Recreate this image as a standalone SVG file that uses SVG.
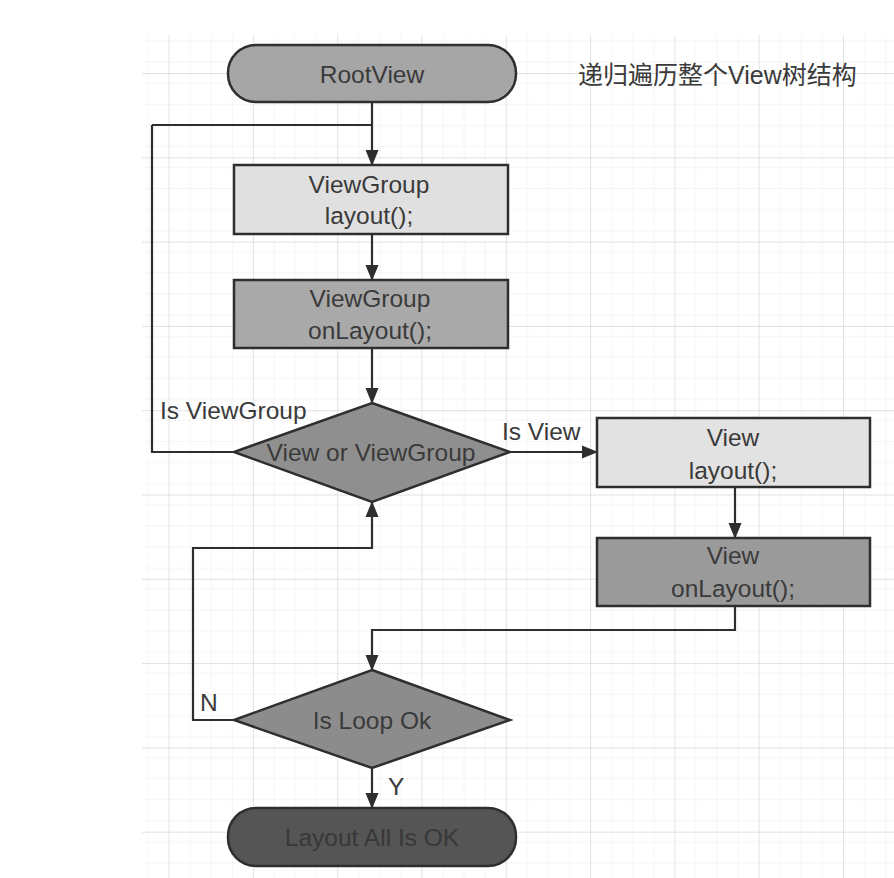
<svg xmlns="http://www.w3.org/2000/svg" width="894" height="878" viewBox="0 0 894 878">
  <style>
    .box { stroke: #2e2e2e; stroke-width: 2.5; }
    .wire { fill: none; stroke: #2e2e2e; stroke-width: 2.2; }
    .t { font-family: "Liberation Sans", Arial, sans-serif; font-size: 24.5px; fill: #3a3a3a; text-anchor: middle; }
    .lbl { font-family: "Liberation Sans", Arial, sans-serif; font-size: 24.5px; fill: #3a3a3a; }
    .cjk { font-family: "Liberation Sans", "Noto Sans CJK SC", sans-serif; font-size: 25px; fill: #3a3a3a; }
  </style>
  <defs>
    <pattern id="minor" patternUnits="userSpaceOnUse" x="0" y="73" width="21.08" height="21.08">
      <path d="M 0 0 V 21.08 M 0 0 H 21.08" fill="none" stroke="#ececec" stroke-width="1"/>
    </pattern>
    <pattern id="major" patternUnits="userSpaceOnUse" x="0" y="73" width="84.3" height="84.3">
      <rect width="84.3" height="84.3" fill="url(#minor)"/>
      <path d="M 0 0 V 84.3 M 0 0 H 84.3" fill="none" stroke="#d8d8d8" stroke-width="1.3"/>
    </pattern>
    <marker id="arrowL" markerWidth="16" markerHeight="14" refX="15" refY="7" orient="auto" markerUnits="userSpaceOnUse" viewBox="0 0 16 14">
      <path d="M 0 0.5 L 16 7 L 0 13.5 z" fill="#2e2e2e"/>
    </marker>
  </defs>

  <rect width="894" height="878" fill="#ffffff"/>
  <rect x="142" y="35" width="752" height="843" fill="url(#major)"/>

  <!-- connectors -->
  <g id="connectors">
    <path class="wire" d="M 372 102 V 165" marker-end="url(#arrowL)"/>
    <path class="wire" d="M 152 125 H 372"/>
    <path class="wire" d="M 372 234 V 280" marker-end="url(#arrowL)"/>
    <path class="wire" d="M 372 348 V 403" marker-end="url(#arrowL)"/>
    <path class="wire" d="M 234 452 H 152 V 125"/>
    <path class="wire" d="M 510 452 H 597" marker-end="url(#arrowL)"/>
    <path class="wire" d="M 735 487 V 538" marker-end="url(#arrowL)"/>
    <path class="wire" d="M 735 606 V 630 H 372 V 670" marker-end="url(#arrowL)"/>
    <path class="wire" d="M 234 720 H 193 V 548 H 372 V 502" marker-end="url(#arrowL)"/>
    <path class="wire" d="M 372 768 V 808" marker-end="url(#arrowL)"/>
    <text class="lbl" x="160" y="419">Is ViewGroup</text>
    <text class="lbl" x="502" y="440">Is View</text>
    <text class="lbl" x="200" y="711">N</text>
    <text class="lbl" x="388" y="795">Y</text>
  </g>

  <g id="root-view">
    <rect class="box" x="228" y="45" width="288" height="57" rx="28" fill="#a6a6a6"/>
    <text class="t" x="372" y="83">RootView</text>
  </g>

  <g id="title-note">
    <text class="cjk" x="578" y="84">递归遍历整个View树结构</text>
  </g>

  <g id="viewgroup-layout">
    <rect class="box" x="234" y="165" width="274" height="69" fill="#e0e0e0"/>
    <text class="t" x="369" y="193">ViewGroup</text>
    <text class="t" x="369" y="224">layout();</text>
  </g>

  <g id="viewgroup-onlayout">
    <rect class="box" x="234" y="280" width="274" height="68" fill="#a9a9a9"/>
    <text class="t" x="370" y="307">ViewGroup</text>
    <text class="t" x="370" y="339">onLayout();</text>
  </g>

  <g id="type-check">
    <polygon class="box" points="372,403 510,452 372,502 234,452" fill="#8f8f8f"/>
    <text class="t" x="371" y="461">View or ViewGroup</text>
  </g>

  <g id="view-layout">
    <rect class="box" x="597" y="418" width="273" height="69" fill="#e2e2e2"/>
    <text class="t" x="733" y="446">View</text>
    <text class="t" x="733" y="479">layout();</text>
  </g>

  <g id="view-onlayout">
    <rect class="box" x="597" y="538" width="273" height="68" fill="#9a9a9a"/>
    <text class="t" x="733" y="564">View</text>
    <text class="t" x="733" y="597">onLayout();</text>
  </g>

  <g id="loop-check">
    <polygon class="box" points="372,670 510,720 372,768 234,720" fill="#8c8c8c"/>
    <text class="t" x="372" y="729">Is Loop Ok</text>
  </g>

  <g id="layout-done">
    <rect class="box" x="228" y="808" width="288" height="58" rx="28" fill="#555555"/>
    <text class="t" x="372" y="846" style="fill:#383838">Layout All Is OK</text>
  </g>
</svg>
